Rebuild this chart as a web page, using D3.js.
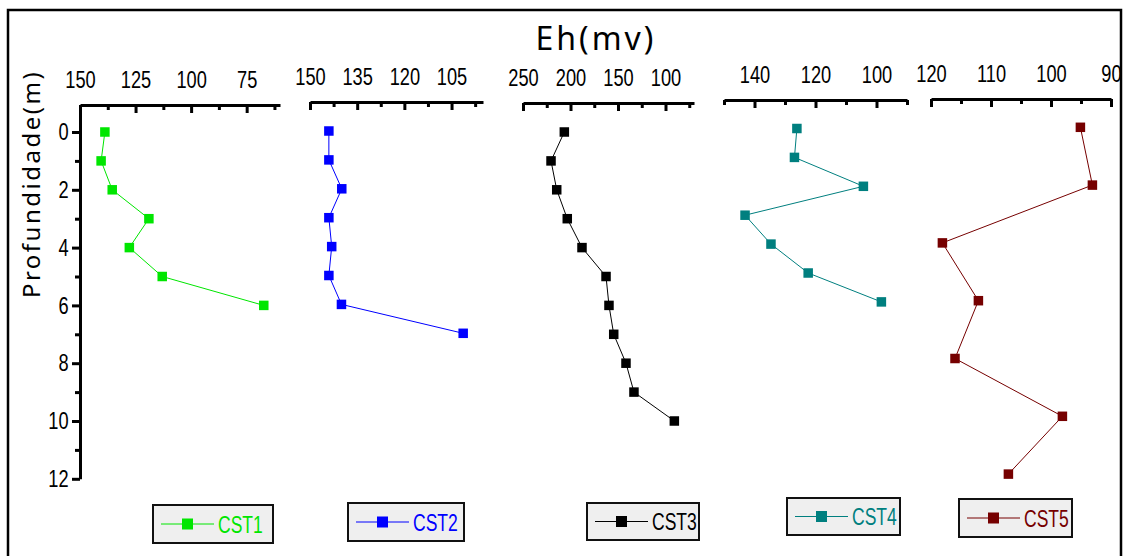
<!DOCTYPE html>
<html>
<head>
    <script type="text/javascript" src="https://cdn.jsdelivr.net/npm/d3@7/dist/d3.min.js" charset="utf-8"></script>
    <style>
        body { margin: 0; background: #fff; }
        svg { display: block; }
    </style>
</head>
<body>
    <div id="viz"></div>
    <script type="text/javascript">
    //Data (Eh in mV against depth in m)
    var seriesNames = ["CST1", "CST2", "CST3", "CST4", "CST5"];
    var depthsCST1 = [0, 1, 2, 3, 4, 5, 6];
    var ehCST1 = [138.8, 140.5, 135.5, 119, 127.8, 113, 67.3];
    var depthsCST2 = [0, 1, 2, 3, 4, 5, 6, 7];
    var ehCST2 = [144, 144, 139.9, 144, 143.1, 144, 140, 101.3];
    var depthsCST3 = [0, 1, 2, 3, 4, 5, 6, 7, 8, 9, 10];
    var ehCST3 = [206.5, 220.5, 214.5, 203.4, 187.9, 162.6, 159.5, 154.5, 141.6, 133.2, 90.7];
    var depthsCST4 = [0, 1, 2, 3, 4, 5, 6];
    var ehCST4 = [126.1, 126.9, 104.3, 143.1, 134.6, 122.4, 98.4];
    var depthsCST5 = [0, 2, 4, 6, 8, 10, 12];
    var ehCST5 = [95.1, 93.1, 118.1, 112.1, 116, 98.1, 107.1];

    //Axis ticks (major ones get a label)
    var majorTicks = [[150, 125, 100, 75], [150, 135, 120, 105], [250, 200, 150, 100], [140, 120, 100], [120, 110, 100, 90]];
    var minorTicks = [[137.5, 112.5, 87.5, 62.5], [142.5, 127.5, 112.5, 97.5], [225, 175, 125, 75], [150, 130, 110, 90], [115, 105, 95]];
    var xDomains = [[150, 60], [150, 95], [250, 70], [150, 90], [120, 90]];
    var depthTicks = [0, 1, 2, 3, 4, 5, 6, 7, 8, 9, 10, 11, 12];

    var colors = ["#00e600", "#0000ff", "#000000", "#007f7f", "#760000"];

    //Layout
    var width = 1129;
    var height = 556;
    var pxPerMeter = 28.9;
    var narrow = "'Liberation Sans', Arial, sans-serif";   //squeezed with scale() below

    var panels = [
        { depths: depthsCST1, values: ehCST1, range: [80, 280], axisY: 105, y0: 132, legend: [153, 505, 120, 38] },
        { depths: depthsCST2, values: ehCST2, range: [310, 483], axisY: 102, y0: 131, legend: [348, 503, 116, 38] },
        { depths: depthsCST3, values: ehCST3, range: [523, 694], axisY: 103, y0: 132, legend: [587, 503, 112, 37] },
        { depths: depthsCST4, values: ehCST4, range: [724, 907], axisY: 100, y0: 128.5, legend: [787, 498, 113, 37] },
        { depths: depthsCST5, values: ehCST5, range: [931, 1111], axisY: 99, y0: 127.3, legend: [959, 499, 113, 38] }
    ];

    var svg = d3.select("#viz")
        .append("svg")
        .attr("width", width)
        .attr("height", height);

    //Outer frame
    svg.append("rect")
        .attr("x", 8).attr("y", 10)
        .attr("width", 1113).attr("height", 570)
        .attr("fill", "none")
        .attr("stroke", "#000")
        .attr("stroke-width", 2.5);

    //Title
    svg.append("text")
        .attr("x", 596).attr("y", 50)
        .attr("text-anchor", "middle")
        .style("font-family", "'Noto Sans', sans-serif")
        .style("font-size", "32px")
        .style("letter-spacing", "3px")
        .text("Eh(mv)");

    //Y label
    svg.append("text")
        .attr("transform", "translate(40,184) rotate(-90)")
        .attr("text-anchor", "middle")
        .style("font-family", "'Noto Sans', sans-serif")
        .style("font-size", "24px")
        .style("letter-spacing", "2.5px")
        .text("Profundidade(m)");

    panels.forEach(function(p, i) {
        var x = d3.scaleLinear().domain(xDomains[i]).range(p.range);
        var y = d3.scaleLinear().domain([0, 12]).range([p.y0, p.y0 + 12 * pxPerMeter]);
        var g = svg.append("g");

        //Top axis, ticks pointing down
        var allTicks = majorTicks[i].concat(minorTicks[i]).sort(d3.ascending);
        var ax = g.append("g")
            .attr("transform", "translate(0," + p.axisY + ")")
            .call(d3.axisTop(x)
                .tickValues(allTicks)
                .tickFormat(function(d) { return majorTicks[i].indexOf(d) >= 0 ? d : ""; })
                .tickSizeInner(-8)
                .tickSizeOuter(0)
                .tickPadding(17));
        styleAxis(ax);
        ax.selectAll(".tick").filter(function(d) { return majorTicks[i].indexOf(d) < 0; })
            .select("line").attr("y2", 5);

        //Depth axis only on the first panel
        if (i === 0) {
            var yAxisScale = y.copy().domain([y.invert(p.axisY), 12]).range([p.axisY, y(12)]);
            var ay = g.append("g")
                .attr("transform", "translate(" + p.range[0] + ",0)")
                .call(d3.axisLeft(yAxisScale)
                    .tickValues(depthTicks)
                    .tickFormat(function(d) { return d % 2 === 0 ? d : ""; })
                    .tickSizeInner(8)
                    .tickSizeOuter(0)
                    .tickPadding(7));
            styleAxis(ay);
            ay.selectAll(".tick").filter(function(d) { return d % 2 !== 0; })
                .select("line").attr("x2", -5);
        }

        var pts = p.depths.map(function(d, k) { return { depth: d, eh: p.values[k] }; });

        g.append("path")
            .datum(pts)
            .attr("fill", "none")
            .attr("stroke", colors[i])
            .attr("stroke-width", 1)
            .attr("d", d3.line()
                .x(function(d) { return x(d.eh); })
                .y(function(d) { return y(d.depth); }));

        g.selectAll("rect.mark")
            .data(pts)
            .enter()
            .append("rect")
            .attr("class", "mark")
            .attr("x", function(d) { return x(d.eh) - 4.75; })
            .attr("y", function(d) { return y(d.depth) - 4.75; })
            .attr("width", 9.5)
            .attr("height", 9.5)
            .attr("fill", colors[i]);

        //Legend box
        var lg = svg.append("g").attr("transform", "translate(" + p.legend[0] + "," + p.legend[1] + ")");
        var bw = p.legend[2], bh = p.legend[3];
        lg.append("rect")
            .attr("width", bw).attr("height", bh)
            .attr("fill", "#efefef")
            .attr("stroke", "#111")
            .attr("stroke-width", 2);
        lg.append("line")
            .attr("x1", 8).attr("x2", 61)
            .attr("y1", bh / 2).attr("y2", bh / 2)
            .attr("stroke", colors[i]).attr("stroke-width", 1);
        lg.append("rect")
            .attr("x", 29).attr("y", bh / 2 - 5.5)
            .attr("width", 11).attr("height", 11)
            .attr("fill", colors[i]);
        lg.append("text")
            .attr("transform", "translate(65," + (bh / 2 + 8.5) + ") scale(0.73,1)")
            .attr("fill", colors[i])
            .style("font-family", narrow)
            .style("font-size", "24px")
            .text(seriesNames[i]);
    });

    function styleAxis(sel) {
        sel.select(".domain").attr("stroke", "#000").attr("stroke-width", 3);
        sel.selectAll(".tick line").attr("stroke", "#000").attr("stroke-width", 3);
        sel.selectAll(".tick text")
            .attr("transform", "scale(0.76,1)")
            .attr("fill", "#000")
            .style("font-family", narrow)
            .style("font-size", "24px");
    }
    </script>
</body>
</html>
